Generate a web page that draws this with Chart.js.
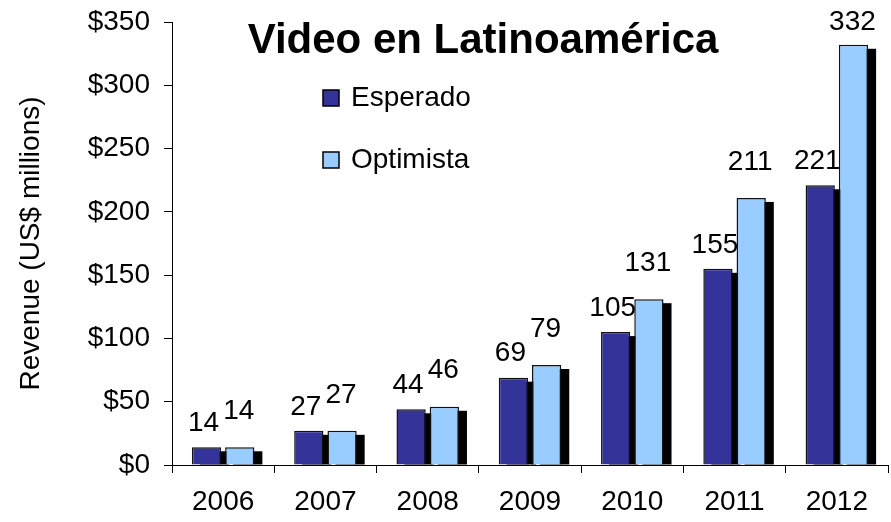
<!DOCTYPE html>
<html>
<head>
<meta charset="utf-8">
<script src="https://cdn.jsdelivr.net/npm/chart.js@4"></script>
<style>
  html, body { margin: 0; padding: 0; background: #fff; }
  #c { display: block; }
</style>
</head>
<body>
<canvas id="c" width="891" height="522"></canvas>
<script>
const categories = ['2006', '2007', '2008', '2009', '2010', '2011', '2012'];
const esperado = [14, 27, 44, 69, 105, 155, 221];
const optimista = [14, 27, 46, 79, 131, 211, 332];
const seriesNames = ['Esperado', 'Optimista'];
const yTickValues = [0, 50, 100, 150, 200, 250, 300, 350];
const chartTitle = 'Video en Latinoamérica';
const yAxisTitle = 'Revenue (US$ millions)';

const FONT = '"Liberation Sans", Arial, sans-serif';
const COLORS = ['#333399', '#99CCFF'];

const shadowPlugin = {
  id: 'barShadow',
  beforeDatasetsDraw(chart) {
    const ctx = chart.ctx;
    ctx.save();
    ctx.fillStyle = '#000';
    chart.data.datasets.forEach((ds, i) => {
      chart.getDatasetMeta(i).data.forEach(bar => {
        const p = bar.getProps(['x', 'y', 'base', 'width'], true);
        const l = p.x - p.width / 2 + 8;
        const t = p.y + 4;
        ctx.fillRect(l, t, p.width, p.base - t);
      });
    });
    ctx.restore();
  }
};

const labelPlugin = {
  id: 'valueLabels',
  afterDatasetsDraw(chart) {
    const ctx = chart.ctx;
    const area = chart.chartArea;
    ctx.save();
    ctx.fillStyle = '#000';
    ctx.font = '28px ' + FONT;
    ctx.textAlign = 'center';
    ctx.textBaseline = 'middle';
    chart.data.datasets.forEach((ds, i) => {
      const dy = i === 0 ? 24 : 36;
      const dx = i === 0 ? -3 : -1;
      chart.getDatasetMeta(i).data.forEach((bar, j) => {
        const p = bar.getProps(['x', 'y'], true);
        const y = Math.max(p.y - dy, area.top);
        ctx.fillText(String(ds.data[j]), p.x + dx, y);
      });
    });
    ctx.restore();
  }
};

const overlayPlugin = {
  id: 'overlay',
  afterDraw(chart) {
    const ctx = chart.ctx;
    const area = chart.chartArea;
    ctx.save();
    ctx.fillStyle = '#000';
    ctx.font = 'bold 42px ' + FONT;
    ctx.textAlign = 'center';
    ctx.textBaseline = 'middle';
    ctx.fillText(chartTitle, area.left + 311, area.top + 19);
    ctx.font = '28px ' + FONT;
    ctx.textAlign = 'left';
    chart.data.datasets.forEach((ds, i) => {
      const cy = area.top + 76 + i * 62;
      const sx = area.left + 151;
      ctx.fillStyle = ds.backgroundColor;
      ctx.fillRect(sx, cy - 8, 16, 16);
      ctx.strokeStyle = '#000';
      ctx.lineWidth = 1.5;
      ctx.strokeRect(sx, cy - 8, 16, 16);
      ctx.fillStyle = '#000';
      ctx.fillText(ds.label, sx + 28, cy);
    });
    ctx.restore();
  }
};

new Chart(document.getElementById('c'), {
  type: 'bar',
  data: {
    labels: categories,
    datasets: [
      { label: seriesNames[0], data: esperado, backgroundColor: COLORS[0], borderColor: '#111', borderWidth: 1.5, borderSkipped: 'start' },
      { label: seriesNames[1], data: optimista, backgroundColor: COLORS[1], borderColor: '#111', borderWidth: 1.5, borderSkipped: 'start' }
    ]
  },
  options: {
    responsive: false,
    animation: false,
    devicePixelRatio: 1,
    layout: { padding: { top: 22, right: 3, bottom: 0, left: 0 } },
    datasets: { bar: { categoryPercentage: 0.65, barPercentage: 0.88 } },
    plugins: {
      legend: { display: false },
      tooltip: { enabled: false },
      title: { display: false }
    },
    scales: {
      x: {
        afterFit(scale) { scale.height = 57; scale.paddingLeft = 0; scale.paddingRight = 0; },
        ticks: { color: '#000', font: { size: 28, family: FONT, lineHeight: 1 }, padding: 15, maxRotation: 0 },
        grid: { offset: true, drawOnChartArea: false, drawTicks: true, tickLength: 8, color: '#000' },
        border: { color: '#000', width: 1 }
      },
      y: {
        min: 0,
        max: 350,
        afterBuildTicks(scale) { scale.ticks = yTickValues.map(v => ({ value: v })); },
        afterFit(scale) { scale.width = 172; scale.paddingTop = 0; scale.paddingBottom = 0; },
        ticks: { color: '#000', font: { size: 28, family: FONT }, padding: 14, callback: v => '$' + v },
        grid: { drawOnChartArea: false, drawTicks: true, tickLength: 8, color: '#000' },
        border: { color: '#000', width: 1 },
        title: { display: true, text: yAxisTitle, color: '#000', font: { size: 28, family: FONT }, padding: { top: 14, bottom: 0 } }
      }
    }
  },
  plugins: [shadowPlugin, labelPlugin, overlayPlugin]
});
</script>
</body>
</html>
